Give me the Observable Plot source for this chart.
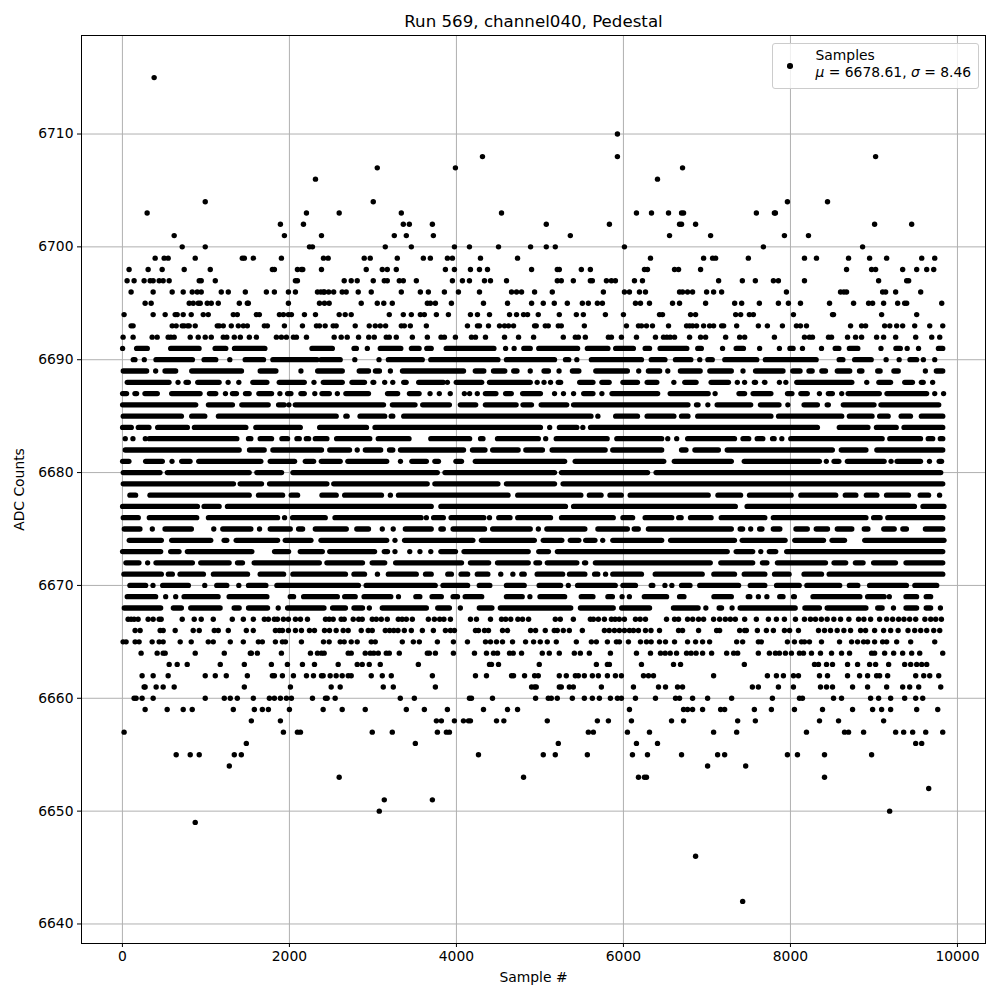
<!DOCTYPE html>
<html>
<head>
<meta charset="utf-8">
<script src="https://cdn.jsdelivr.net/npm/d3@7"></script>
<script src="https://cdn.jsdelivr.net/npm/@observablehq/plot@0.6"></script>
<style>
html,body{margin:0;padding:0;background:#fff;}
#wrap{position:relative;width:1000px;height:1000px;font-family:"DejaVu Sans",sans-serif;color:#000;}
#legend{position:absolute;left:771.5px;top:42.5px;width:205px;height:44px;background:rgba(255,255,255,.8);border:1px solid #ccc;border-radius:3px;font-size:13.89px;line-height:17px;}
#legend .mk{position:absolute;left:14.5px;top:19.5px;width:5.6px;height:5.6px;border-radius:50%;background:#000;}
#legend .tx{position:absolute;left:43px;top:3px;white-space:nowrap;}
#legend i{font-family:"DejaVu Sans";font-style:italic;}
</style>
</head>
<body>
<div id="wrap">
<div id="chart"></div>
<div id="legend"><span class="mk"></span><div class="tx">Samples<br><i>μ</i> = 6678.61, <i>σ</i> = 8.46</div></div>
</div>
<script>
const titleText = "Run 569, channel040, Pedestal";
const xLabel = "Sample #";
const yLabel = "ADC Counts";
const xTicks = [0,2000,4000,6000,8000,10000];
const yTicks = [6640,6650,6660,6670,6680,6690,6700,6710];

// Sparse levels: each individually readable sample
const sparseLevels = [6715,6710,6708,6707,6706,6704,6703,6702,6701,6700,6699,6698,6697,6696,6695,6694,6693,6692,
 6667,6666,6665,6664,6663,6662,6661,6660,6659,6658,6657,6656,6655,6654,6653,6652,6651,6650,6649,6646,6642];
const sparseSamples = [
 [380],
 [5928],
 [4312,5928,9020],
 [3052,3988,6708],
 [2312,6408],
 [992,3004,7964,8444],
 [296,2204,2596,3340,4540,6156,6336,6540,6696,6720,7592,7808,7820],
 [1892,2168,3364,3436,3712,5076,5832,6672,6696,6864,9008,9452],
 [620,1940,2384,3256,3400,3724,5364,6552,7044,7928,8216],
 [716,992,2240,2276,3148,3460,3976,4156,4504,4888,5076,5184,6012,7676,8864],
 [392,500,548,872,1436,1460,1568,1904,2408,2464,2896,2968,3292,3604,3688,3892,3952,4288,4732,6324,6960,7068,7104,7496,8168,8312,8696,8948,9152,9572,9728],
 [80,308,476,740,1052,1796,1820,2096,2144,2160,2384,2920,3112,3172,3280,3868,3976,4168,4276,4372,4900,5208,5232,5496,5604,6252,6288,6612,6660,6924,8672,8972,9020,9344,9512,9632,9716],
 [56,140,260,332,368,440,488,560,920,944,1112,2072,2096,2656,2740,2812,3004,3136,3172,3316,3364,3520,3952,4072,4156,4336,4408,4600,5208,5256,5400,5604,5628,5796,5856,5904,6132,6228,7140,7424,7580,7796,7856,8168,9056,9392,9416],
 [104,368,596,728,836,896,944,1184,1268,1472,1724,1820,1988,2072,2336,2408,2376,2420,2470,2530,2632,2680,2824,2980,3340,3568,3664,3856,4024,4276,4660,4720,4780,4936,5148,5760,6012,6072,6192,6264,6672,6708,6768,6828,6996,7080,7176,7952,8600,8640,8672,9104,9140,9260,9560],
 [272,344,800,848,908,932,1016,1064,1148,1400,1496,1508,1988,2360,2420,2476,2860,3052,3130,3232,3652,3688,3748,3940,4324,4612,4900,5040,5172,5328,5508,5580,5688,5748,6144,6204,6312,6588,6672,6984,7332,7416,7628,7856,7976,8120,8468,8756,8936,8984,9116,9284,9368,9392,9812],
 [20,368,512,632,656,728,824,968,1028,1328,1376,1604,1640,1880,1928,1988,2024,2180,2312,2596,2668,2740,3196,3364,3460,3568,3616,3760,3904,4168,4252,4396,4636,4720,4804,4852,4980,5232,5436,5520,5784,6000,6432,6468,6804,6864,7344,7404,7508,7556,8036,8504,8516,9092,9512],
 [104,128,596,644,716,740,780,800,872,1136,1160,1208,1304,1388,1448,1496,1700,1736,1940,2156,2324,2360,2428,2524,2560,2788,2956,3028,3088,3152,3340,3376,3448,3640,4132,4252,4276,4384,4516,4576,4624,4684,4936,4956,5064,5100,5220,5256,5532,6036,6180,6216,6276,6348,6540,6756,6792,6828,6876,6960,7032,7080,7176,7200,7356,7616,7724,7904,8072,8120,8192,8720,8852,8900,9128,9190,9272,9344,9488,9668,9824],
 [8,128,356,416,548,580,620,812,908,992,1064,1208,1250,1340,1412,1520,1604,1844,1904,1964,2048,2084,2204,2536,2620,2692,2828,2950,3016,3160,3196,3280,3472,3652,3816,3856,3988,4180,4228,4348,4576,4744,4924,5280,5424,5460,5544,5820,5856,5976,6156,6384,6480,6520,6560,6612,6792,6924,6984,7224,7392,7452,7808,8168,8228,8264,8456,8492,8684,8780,8852,9032,9116,9260,9500,9692,9788],
 [68,104,140,188,308,368,440,464,716,860,944,1088,1316,1448,1568,1700,1748,1820,1856,1928,1988,2072,2132,2216,2432,2476,2524,2620,2656,2764,2830,2872,2992,3040,3100,3172,3304,3350,3400,3472,3664,3736,3800,3850,3928,4168,4240,4408,4540,4590,4650,4736,4792,4864,5184,5244,5400,5604,5640,5700,5772,5856,5900,5950,6012,6144,6200,6264,6516,6612,6660,6768,6830,6900,6960,7080,7152,7220,7280,7340,7452,7592,7736,7832,7928,8060,8168,8240,8300,8370,8440,8520,8600,8700,8816,8880,8960,9068,9152,9224,9296,9360,9428,9500,9610,9680,9740,9808],
 [152,212,452,488,632,848,920,1100,1148,1268,1484,1568,1832,1880,1916,1988,2072,2144,2240,2300,2420,2480,2560,2644,2704,2860,2944,2992,3148,3200,3250,3300,3376,3460,3592,3724,3868,3928,3976,4228,4264,4336,4384,4552,4612,4888,4948,5064,5172,5208,5280,5352,5508,5772,5830,5892,5952,6012,6072,6120,6180,6264,6330,6432,6660,6708,6900,7116,7152,7392,7452,7472,7604,7712,7796,7928,7990,8096,8336,8408,8480,8560,8640,8720,8840,8900,9008,9116,9200,9290,9408,9488,9560,9632,9716,9788],
 [8,44,152,200,356,440,488,692,824,1028,1088,1292,1448,1628,1676,1832,1916,1952,2144,2408,2476,2608,2656,2740,2812,2980,3028,3352,3484,3556,3772,3964,4132,4348,4408,4480,4552,4672,4828,4924,5004,5088,5196,5436,5616,5676,5808,5916,5952,6060,6204,6276,6332,6432,6504,6612,6768,6864,6948,7032,7356,7428,7616,7652,7964,8048,8132,8168,8228,8372,8588,8732,8804,8876,8924,9008,9104,9152,9272,9440,9728],
 [224,416,488,512,872,1220,1532,1544,1616,1904,2252,2336,2384,2416,2704,2740,2908,2968,3010,3064,3160,3196,3316,3652,3676,3748,3964,4216,4360,4444,4492,4636,4680,4780,5028,5112,5232,5412,5484,5592,5844,6156,6324,6444,6500,6560,6636,6756,6810,6870,6948,7056,7236,7320,7368,7616,7748,7820,7868,7940,8012,8108,8156,8252,8360,8492,8612,8708,8972,9008,9128,9236,9344,9452,9548,9824],
 [560,656,776,1172,1460,1784,1976,2156,2300,2584,2812,2872,2956,3088,3544,4396,4420,4504,4992,5676,5808,5832,6216,6600,6684,7448,8288,8336,8432,8504,8684,8804,8948,9020,9176,9368,9440,9512,9572,9632],
 [236,368,548,992,1112,1244,1496,1796,1820,1916,2048,2204,2288,2384,2404,2488,2560,2632,2704,2740,2980,3112,3220,3712,4228,4360,4660,4684,4816,4936,4980,5232,5316,5424,5460,5532,5628,5700,5808,5904,5976,6240,6300,6360,7080,7724,7832,7916,8036,8096,8348,8444,8684,8828,8924,9032,9068,9164,9500,9596,9668,9776],
 [260,272,404,488,620,1460,2012,2500,2608,3124,3244,3748,4900,4936,4956,5232,5256,5352,5400,5736,6120,6420,6504,6648,6708,7544,7616,7856,8036,8360,8432,8504,8744,8924,9152,9344,9428,9536,9800],
 [140,164,236,368,992,1220,1292,1376,1568,1760,1820,1892,1964,2024,2276,2432,2452,2548,3328,3496,4156,4180,4432,4948,5100,5136,5208,5388,5532,5628,5712,5844,5928,5976,6144,6384,6624,6672,6828,7008,7296,7784,8108,8144,8516,8612,8960,9056,9200,9368,9500,9584],
 [272,536,728,836,1328,1580,1676,1748,2000,2404,2632,2908,3400,3616,3892,4324,4612,4732,6072,6720,6768,6828,6948,7164,7212,7568,7772,8048,8384,8744,8984,9092,9200,9512,9764],
 [1544,1892,3760,3820,3976,4084,4144,4168,4480,4568,5088,5688,5820,6096,6576,6720,7368,7580,8348,8576,9116],
 [20,1928,2096,2132,2992,3232,3772,3880,3916,5580,5640,6048,6312,7080,7356,8192,8648,8696,8876,9260,9356,9464,9620,9824],
 [1484,3508,5220,6156,6408,9500,9572],
 [644,812,920,1340,1424,4264,5040,5184,5568,6108,6288,6696,7128,7212,7964,8084,8408,8972],
 [1280,7008,7464],
 [2596,4804,6180,6252,6276,8408],
 [9656],
 [3136,3712],
 [3076,9188],
 [872],
 [6864],
 [7428]
];

// Dense levels: contiguous stretches of overlapping samples, as from,to pairs
const denseLevels = [6691,6690,6689,6688,6687,6686,6685,6684,6683,6682,6681,6680,6679,6678,6677,6676,6675,6674,6673,6672,6671,6670,6669,6668];
const denseStretches = [
 [8,8,176,304,584,924,1116,1244,1348,1712,2276,2520,2780,2808,2939,2939,3094,3340,3467,3559,3651,3704,3883,4455,4595,4595,4697,4697,4813,4890,4992,5457,5574,5820,5913,6125,6266,6319,6445,6765,6896,6939,7193,7193,7356,7443,7637,7637,7874,7874,8000,8038,8150,8150,8378,8378,8542,8586,8712,8813,9090,9090,9269,9322,9404,9404,9540,9540,9778,9830],
 [136,156,268,268,408,844,984,1124,1292,1292,1476,1696,1808,2336,2384,2614,2789,2789,3079,3079,3191,3597,3699,4503,4605,5181,5312,5351,5448,5448,5622,6222,6339,6503,6629,6813,6920,6920,7017,7070,7220,7603,7705,8314,8590,8634,8775,8973,9152,9152,9308,9308,9438,9517,9598,9598,9734,9734],
 [16,296,404,404,516,644,836,1432,1656,1844,2144,2144,2344,2639,2842,2953,3036,3084,3215,3215,3360,4091,4232,4334,4450,4585,4692,4731,4890,4890,5055,5108,5235,5235,5395,5472,5675,6053,6189,6189,6305,6440,6537,6537,6688,6925,7041,7298,7438,7438,7588,7917,8034,8121,8228,8266,8382,8426,8567,8716,8833,8862,9051,9080,9245,9297,9622,9622,9753,9830],
 [64,564,672,672,768,796,908,1164,1272,1272,1400,1400,1568,1736,1884,2184,2300,2300,2412,2639,2755,2905,3007,3016,3147,3147,3244,3244,3375,3404,3554,3849,3898,3898,4004,4309,4402,4890,4973,4973,5055,5055,5133,5133,5225,5254,5482,5641,5748,5835,6000,6174,6290,6406,6610,6610,6741,6876,7056,7264,7370,7370,7457,7457,7574,7588,7695,7700,7874,7874,7951,7951,8082,8741,8920,8920,9065,9205,9375,9467,9574,9596,9709,9709],
 [8,56,156,176,276,424,596,936,1048,1124,1240,1240,1324,1372,1480,1524,1640,1792,1892,1892,1984,2024,2144,2184,2310,2310,2396,2484,2580,2580,2682,2953,3181,3302,3443,3559,3690,3690,3801,3801,3932,3932,4101,4101,4164,4164,4256,4256,4353,4479,4595,4663,4799,5012,5181,5181,5288,5288,5409,5409,5530,5641,5748,5748,5869,6416,6566,7021,7104,7104,7390,7457,7559,7772,7971,8024,8131,8208,8353,8353,8460,8508,8620,8620,8697,9070,9162,9637,9734,9734,9840,9840],
 [8,884,1036,1324,1436,1752,1876,1944,2000,2000,2076,3133,3239,3510,3602,3922,4053,4237,4353,4721,4803,4905,5021,5327,5409,6779,6881,6900,7017,7017,7128,7530,7647,7869,7975,7975,8169,8329,8446,8460,8639,9007,9090,9782],
 [16,712,836,992,1156,2566,2682,2697,2852,3147,3225,3244,3375,5617,5700,5700,5913,6174,6290,6610,6702,6779,6896,7772,7864,8620,8712,8983,9075,9176,9332,9443,9574,9830],
 [8,112,196,324,428,784,868,1484,1604,2136,2368,2929,3031,5012,5123,5123,5239,5448,5520,5520,5612,8329,8591,8934,9036,9273,9366,9830],
 [40,40,132,132,280,280,328,1376,1516,1544,1656,1792,1916,1984,2096,2124,2208,2236,2316,2455,2571,2968,3070,3438,3699,4164,4295,4324,4498,4987,5075,5075,5201,5811,5927,6464,6537,6537,6644,6644,6775,7336,7438,7506,7608,7675,7792,7811,7903,7903,8010,9104,9196,9564,9656,9710,9801,9830],
 [40,1404,1528,1704,1808,2390,2489,2726,2818,2818,2915,3099,3205,3244,3336,4091,4198,4348,4440,4745,4837,5036,5152,5787,5878,6464,6702,6755,6862,7143,7249,8508,8615,8910,9041,9830],
 [8,84,284,484,600,600,716,816,920,1664,1776,2068,2196,2296,2388,2614,2706,3171,3336,3336,3472,3646,3748,3791,4000,4067,4232,5302,5428,6489,6615,7298,7453,8353,8436,8436,8528,8586,8688,9128,9211,9211,9283,9564,9671,9671,9787,9816],
 [16,456,544,1524,1616,1912,2048,3777,3869,5181,5264,6295,6397,9806],
 [16,1336,1416,1672,1768,2455,2537,3656,3748,4503,4605,5181,5283,9830],
 [96,164,336,1524,1636,1924,2028,2104,2396,2566,2668,3108,3215,3215,3312,4624,4740,5496,5598,5738,5845,5980,6087,7021,7138,7409,7516,8014,8131,8548,8663,8789,8915,9041,9157,9419,9560,9660,9792,9792],
 [8,904,984,1164,1264,3704,3820,5312,5409,7346,7487,9491,9593,9845],
 [16,196,328,896,1036,1864,1948,1948,2044,2435,2552,3583,3646,3646,3733,3849,3942,4334,4402,4402,4513,4648,4740,5133,5264,5884,6000,6116,6266,6585,6668,6697,6809,7056,7177,7699,7801,8910,9002,9080,9172,9830],
 [28,216,364,364,516,832,1100,1100,1208,1544,1648,1648,1776,2016,2116,2164,2316,2687,2813,2953,3118,3118,3249,3249,3394,3704,3820,3849,3966,4343,4440,4890,4987,4987,5089,5544,5700,6053,6135,6184,6305,7298,7404,7433,7530,7530,7637,7665,7801,7879,8072,8208,8315,8450,8567,8741,8890,8934,9124,9249,9352,9395,9622,9830],
 [88,472,596,1064,1224,1256,1368,1864,1956,2264,2384,3171,3270,3270,3385,4203,4305,4939,5046,5268,5370,5472,5554,5665,5758,5758,5879,6464,6571,7336,7428,7942,8058,8402,8504,8654,8896,9845],
 [8,464,584,684,784,1556,1828,1996,2136,2400,2489,3026,3142,3181,3270,3270,3447,3447,3569,3569,3699,3699,3820,3995,4097,4866,4992,5108,5215,7249,7356,7554,7651,7651,7753,7830,7961,9830],
 [48,204,308,308,408,844,944,1284,1384,1444,1584,2364,2455,2881,2997,3147,3278,4067,4174,4392,4498,4866,4958,5002,5094,5448,5540,5554,5670,7046,7172,7554,7671,7724,7850,8426,8528,8668,8784,8876,9002,9264,9390,9830],
 [24,472,556,604,696,976,1096,1504,1656,1936,2048,2677,2779,2905,3060,3060,3191,3525,3636,3704,3903,3946,4062,4140,4256,4382,4537,4537,4682,4682,4789,4818,4973,5278,5360,5544,5661,5699,5792,5792,5879,6222,6387,6949,7089,7336,7453,7699,7816,7990,8169,8378,8470,9830],
 [96,284,372,372,488,796,992,992,1136,1256,1400,1400,1516,1724,1856,2832,2925,3752,3845,4140,4280,4406,4605,4818,4997,5254,5346,5346,5457,5908,6000,6150,6339,6358,6503,6503,6586,6586,6702,6803,6920,7385,7525,7699,7840,8111,8203,8596,8712,8813,8954,9395,9496,9758],
 [64,404,524,524,644,644,744,1152,1284,1736,2016,2056,2176,2580,2668,2794,2900,3220,3312,3312,3520,3568,3714,3825,3966,4019,4111,4309,4605,4794,4886,4886,5007,5302,5501,5641,5820,5874,5990,5990,6077,6077,6256,6523,6678,6731,7090,7298,7501,7520,7622,7622,7724,7724,7878,7917,8043,8053,8276,8838,8930,9128,9190,9190,9390,9517,9632,9685],
 [28,464,616,712,824,1176,1344,1404,1516,1744,1872,1872,1984,2420,2523,2677,2779,2881,2963,2963,3118,3646,3782,3922,4053,4053,4280,4431,4532,5375,5491,5884,5985,6319,6605,6900,6993,6993,7152,7181,7307,7307,7404,8063,8179,8353,8446,8910,9051,9104,9240,9240,9390,9517,9632,9685,9802,9802]
];

const dotRows = sparseLevels.flatMap((level,i)=>sparseSamples[i].map(sample=>({sample,level})));
const stretchRows = denseLevels.flatMap((level,i)=>d3.range(0,denseStretches[i].length,2).map(k=>({level,from:denseStretches[i][k],to:denseStretches[i][k+1]})));

const chart = Plot.plot({
  width:1000,height:1000,
  marginLeft:81,marginRight:15,marginTop:35,marginBottom:57,
  style:{fontFamily:"DejaVu Sans",fontSize:"13.89px",color:"#000",background:"#fff",overflow:"visible"},
  x:{domain:[-490,10336]},
  y:{domain:[6638.27,6718.73]},
  marks:[
    Plot.gridX(xTicks,{stroke:"#b0b0b0",strokeOpacity:1,strokeWidth:1}),
    Plot.gridY(yTicks,{stroke:"#b0b0b0",strokeOpacity:1,strokeWidth:1}),
    Plot.ruleY(stretchRows,{y:"level",x1:"from",x2:"to",stroke:"#000",strokeWidth:5.3,strokeLinecap:"round"}),
    Plot.dot(dotRows,{x:"sample",y:"level",r:2.7,fill:"#000",stroke:"none"}),
    Plot.frame({stroke:"#000",strokeWidth:1}),
    Plot.axisX(xTicks,{tickSize:4,tickPadding:4,tickFormat:d=>String(d),label:xLabel,labelAnchor:"center",labelArrow:"none",labelOffset:38,stroke:"#000",fill:"#000"}),
    Plot.axisY(yTicks,{tickSize:4,tickPadding:4,tickFormat:d=>String(d),label:yLabel,labelAnchor:"center",labelArrow:"none",labelOffset:67,stroke:"#000",fill:"#000"}),
    Plot.text([titleText],{frameAnchor:"top",dy:-20,fontSize:16.67,fill:"#000",text:d=>d})
  ]
});
document.getElementById("chart").appendChild(chart);
</script>
</body>
</html>
